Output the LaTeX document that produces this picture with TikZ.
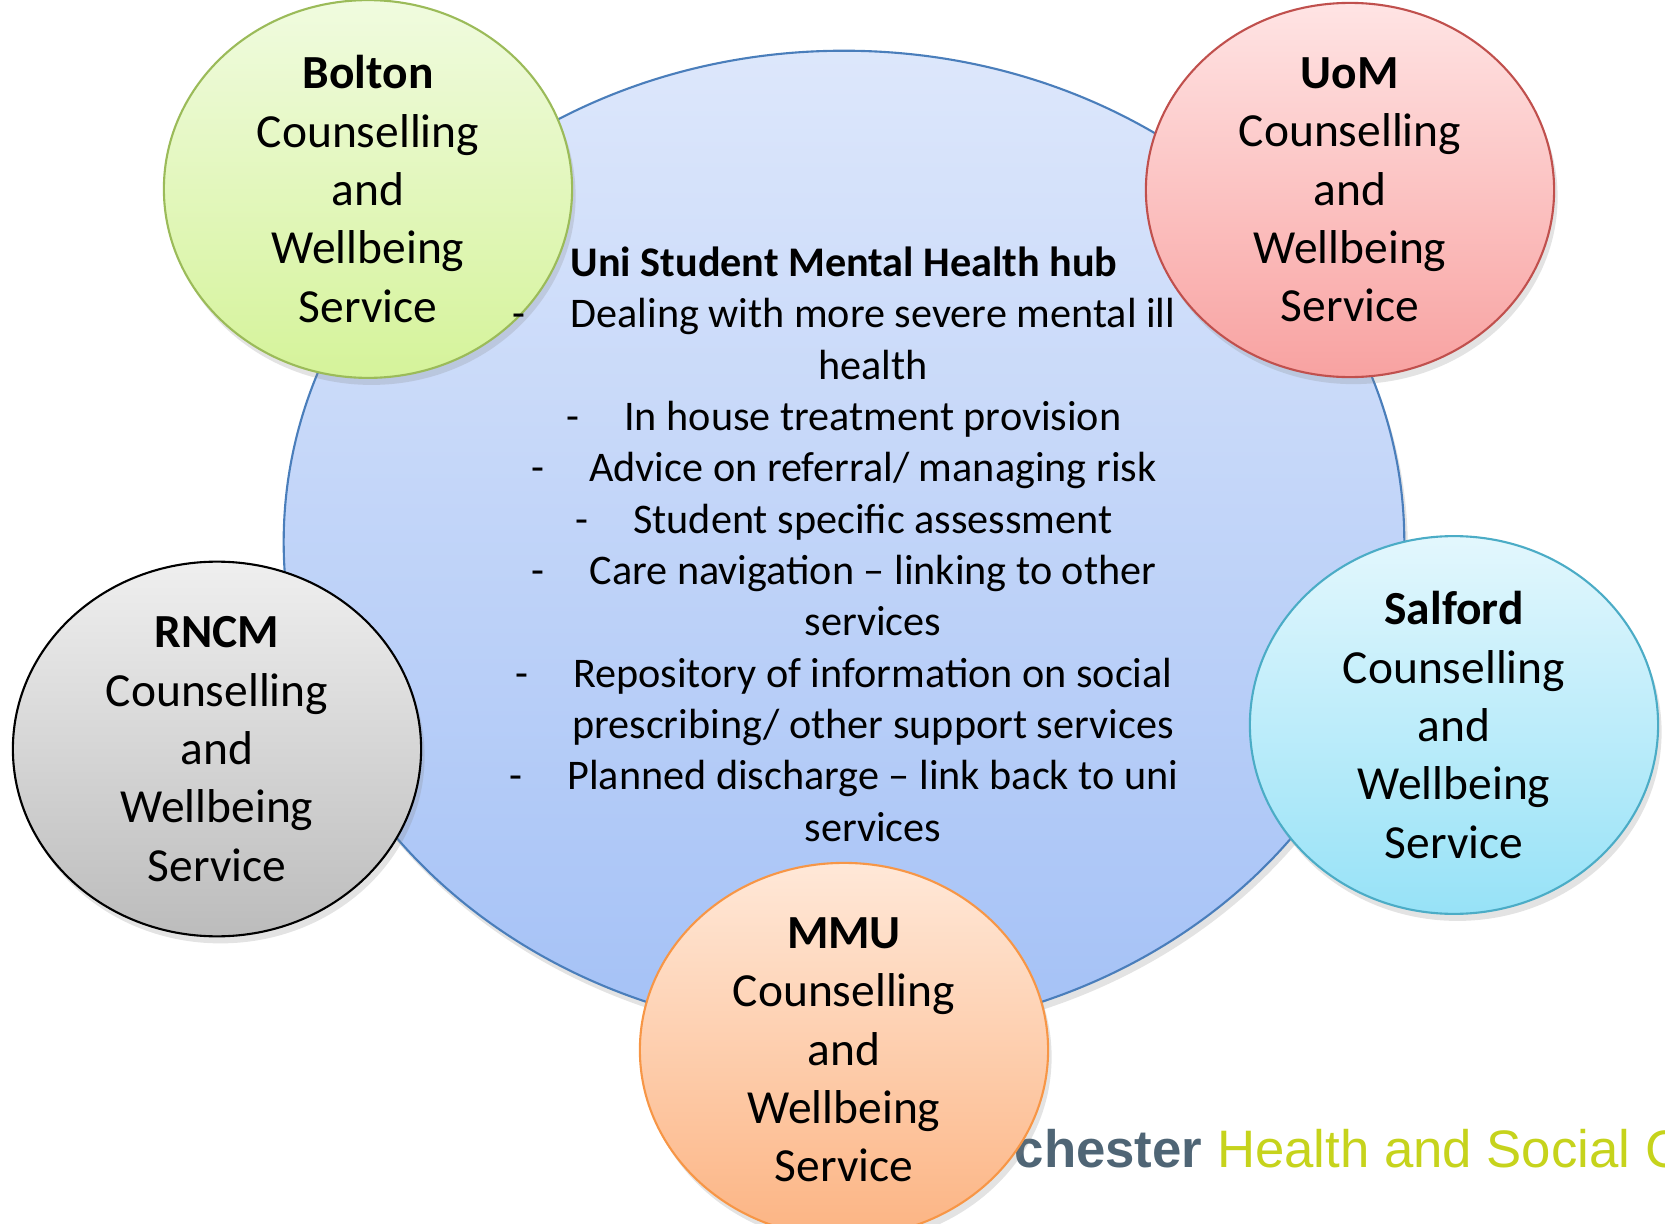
\documentclass[tikz,border=0pt]{standalone}
\usepackage{fontspec}
\setmainfont{Carlito}
\newfontfamily\logofont{Liberation Sans}
\usetikzlibrary{shapes.geometric,shadows}

\definecolor{hubtop}{HTML}{DDE7FB}
\definecolor{hubbot}{HTML}{A4C1F6}
\definecolor{hubline}{HTML}{4A7EBB}
\definecolor{boltontop}{HTML}{F0FBDF}
\definecolor{boltonbot}{HTML}{D5F39A}
\definecolor{boltonline}{HTML}{9BBB59}
\definecolor{uomtop}{HTML}{FFE4E4}
\definecolor{uombot}{HTML}{F8A2A1}
\definecolor{uomline}{HTML}{C0504D}
\definecolor{rncmtop}{HTML}{EFEFEF}
\definecolor{rncmbot}{HTML}{BCBCBC}
\definecolor{salfordtop}{HTML}{E3F7FD}
\definecolor{salfordbot}{HTML}{97E2F7}
\definecolor{salfordline}{HTML}{4BACC6}
\definecolor{mmutop}{HTML}{FFE8D8}
\definecolor{mmubot}{HTML}{FCB483}
\definecolor{mmuline}{HTML}{F79646}
\definecolor{logogrey}{HTML}{4F6575}
\definecolor{logogreen}{HTML}{C6D31C}

\newcommand{\hubitem}[1]{\makebox[1.37em][l]{-}#1}
\newcommand{\hubmore}[1]{\hspace{1.37em}#1}

\tikzset{
  service/.style={ellipse, draw, line width=0.6pt, minimum width=4.08cm, minimum height=3.62cm,
    inner sep=0pt, align=center, font=\fontsize{13.5}{16.6}\selectfont,
    drop shadow={opacity=0.22, shadow xshift=1pt, shadow yshift=-2pt}}
}

\begin{document}
\begin{tikzpicture}[x=0.01cm, y=-0.01cm]
\clip (0,0) rectangle (1665,1224);

\node[ellipse, draw=hubline, line width=0.6pt, top color=hubtop, bottom color=hubbot,
  minimum width=11.2cm, minimum height=9.82cm,
  drop shadow={opacity=0.22, shadow xshift=1pt, shadow yshift=-2pt}] (hub) at (844,542) {};

\node[anchor=base west, inner sep=0pt, font=\logofont\fontsize{15}{18}\selectfont] (logo) at (1014,1167)
  {\textcolor{logogrey}{\bfseries chester} \textcolor{logogreen}{Health and Social C}};

\node[service, draw=boltonline, top color=boltontop, bottom color=boltonbot] (bolton) at (368,189)
  {\textbf{Bolton}\\Counselling\\and\\Wellbeing\\Service};
\node[service, draw=uomline, top color=uomtop, bottom color=uombot] (uom) at (1350,190)
  {\textbf{UoM}\\Counselling\\and\\Wellbeing\\Service};
\node[service, draw=black, top color=rncmtop, bottom color=rncmbot] (rncm) at (217,749)
  {\textbf{RNCM}\\Counselling\\and\\Wellbeing\\Service};
\node[service, draw=salfordline, top color=salfordtop, bottom color=salfordbot] (salford) at (1454,725)
  {\textbf{Salford}\\Counselling\\and\\Wellbeing\\Service};
\node[service, draw=mmuline, top color=mmutop, bottom color=mmubot] (mmu) at (844,1050)
  {\textbf{MMU}\\Counselling\\and\\Wellbeing\\Service};

\node[anchor=north, align=center, inner sep=0pt, font=\fontsize{12}{14.6}\selectfont] (hubtext) at (844,246)
  {\textbf{Uni Student Mental Health hub}\\
   \hubitem{Dealing with more severe mental ill}\\
   \hubmore{health}\\
   \hubitem{In house treatment provision}\\
   \hubitem{Advice on referral/ managing risk}\\
   \hubitem{Student specific assessment}\\
   \hubitem{Care navigation -- linking to other}\\
   \hubmore{services}\\
   \hubitem{Repository of information on social}\\
   \hubmore{prescribing/ other support services}\\
   \hubitem{Planned discharge -- link back to uni}\\
   \hubmore{services}};

\end{tikzpicture}
\end{document}
